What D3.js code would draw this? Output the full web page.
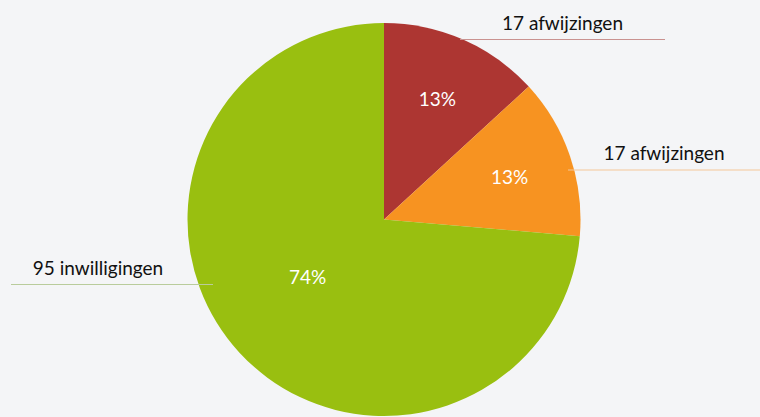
<!DOCTYPE html>
<html><head><meta charset="utf-8">
<script src="https://cdn.jsdelivr.net/npm/d3@7"></script>
<style>
html,body{margin:0;padding:0;background:#f4f5f7;}
svg{display:block;}
text{font-family:"Lato","Open Sans",sans-serif;}
</style></head>
<body>
<svg id="chart" width="760" height="417"></svg>
<script>
const categories = ["17 afwijzingen", "17 afwijzingen", "95 inwilligingen"];
const values = [17, 17, 95];
const percentLabels = ["13%", "13%", "74%"];
const colors = ["#ad3632", "#f79321", "#99bf10"];
const lineColors = ["#c99290", "#f3c89a", "#b9cc9c"];

const W = 760, H = 417;
const cx = 384, cy = 219.5, R = 196.5;
// layout for external labels (y of leader line, x range)
const labelLayout = [
  {y: 39.5, x0: 460, x1: 665},
  {y: 170, x0: 568, x1: 760},
  {y: 284.5, x0: 11, x1: 213}
];

const svg = d3.select("#chart");
svg.append("rect").attr("width", W).attr("height", H).attr("fill", "#f4f5f7");

const pie = d3.pie().sort(null).value(d => d)(values);
const arc = d3.arc().innerRadius(0).outerRadius(R);

const g = svg.append("g").attr("transform", `translate(${cx},${cy})`);

labelLayout.forEach((L, i) => {
  if (i === 2) return;
  svg.append("line").attr("x1", L.x0).attr("x2", L.x1).attr("y1", L.y).attr("y2", L.y)
    .attr("stroke", lineColors[i]).attr("stroke-width", 1.2);
});

g.selectAll("path").data(pie).enter().append("path")
  .attr("d", arc).attr("fill", (d, i) => colors[i]);

{
  const L = labelLayout[2];
  svg.append("line").attr("x1", L.x0).attr("x2", L.x1).attr("y1", L.y).attr("y2", L.y)
    .attr("stroke", lineColors[2]).attr("stroke-width", 1.2);
}

labelLayout.forEach((L, i) => {
  svg.append("text").attr("x", (L.x0 + L.x1) / 2 + (i === 2 ? -14 : 0)).attr("y", L.y - 10)
    .attr("text-anchor", "middle").attr("font-size", 19).attr("fill", "#111")
    .text(categories[i]);
});

pie.forEach((d, i) => {
  const share = (d.endAngle - d.startAngle) / (2 * Math.PI);
  const big = share > 0.5;
  const r = big ? R * 0.485 : R * 0.675;
  const a = (d.startAngle + d.endAngle) / 2 + (big ? 0.1 : 0);
  const x = Math.sin(a) * r, y = -Math.cos(a) * r;
  g.append("text").attr("x", x).attr("y", y + 7.5)
    .attr("text-anchor", "middle").attr("font-size", 19).attr("fill", "#fff")
    .text(percentLabels[i]);
});
</script>
</body></html>
